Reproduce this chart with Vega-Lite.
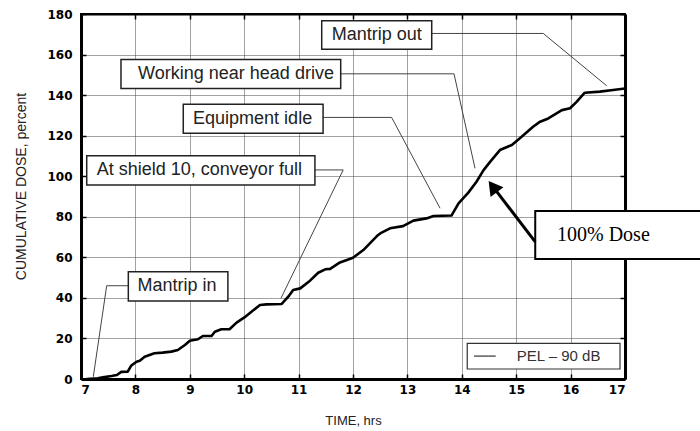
{
  "$schema": "https://vega.github.io/schema/vega-lite/v6.json",
  "width": 544,
  "height": 365,
  "autosize": {"type": "none"},
  "padding": {"left": 81, "top": 14, "right": 75, "bottom": 52},
  "background": "white",
  "config": {
    "view": {"stroke": "black", "strokeWidth": 2},
    "axis": {
      "labelFont": "DejaVu Sans",
      "labelFontWeight": "bold",
      "labelFontSize": 12,
      "labelColor": "black",
      "domainColor": "black",
      "domainWidth": 3,
      "tickColor": "black",
      "tickWidth": 1.5,
      "gridColor": "#444",
      "gridDash": [1, 1],
      "gridWidth": 1,
      "gridOpacity": 1,
      "titleFont": "Liberation Sans",
      "titleFontWeight": "normal",
      "titleFontSize": 13,
      "titleColor": "#222"
    }
  },
  "datasets": {
    "curve": [
      {"t": 7.10, "dose": 0}, {"t": 7.31, "dose": 0.3}, {"t": 7.40, "dose": 0.8}, {"t": 7.56, "dose": 1.5},
      {"t": 7.66, "dose": 2.0}, {"t": 7.74, "dose": 3.5}, {"t": 7.86, "dose": 3.6}, {"t": 7.92, "dose": 6.5},
      {"t": 8.02, "dose": 8.5}, {"t": 8.08, "dose": 9.0}, {"t": 8.17, "dose": 11.0}, {"t": 8.35, "dose": 12.7},
      {"t": 8.50, "dose": 13.0}, {"t": 8.66, "dose": 13.5}, {"t": 8.78, "dose": 14.3}, {"t": 8.91, "dose": 16.8},
      {"t": 9.00, "dose": 18.9}, {"t": 9.15, "dose": 19.6}, {"t": 9.24, "dose": 21.2}, {"t": 9.40, "dose": 21.2},
      {"t": 9.46, "dose": 23.3}, {"t": 9.58, "dose": 24.5}, {"t": 9.73, "dose": 24.5}, {"t": 9.86, "dose": 27.8},
      {"t": 10.01, "dose": 30.5}, {"t": 10.15, "dose": 33.5}, {"t": 10.29, "dose": 36.5}, {"t": 10.41, "dose": 36.8},
      {"t": 10.69, "dose": 37.0}, {"t": 10.81, "dose": 40.6}, {"t": 10.90, "dose": 43.9}, {"t": 11.03, "dose": 44.7},
      {"t": 11.21, "dose": 48.5}, {"t": 11.36, "dose": 52.4}, {"t": 11.49, "dose": 54.1}, {"t": 11.58, "dose": 54.3},
      {"t": 11.76, "dose": 57.5}, {"t": 11.90, "dose": 58.8}, {"t": 12.00, "dose": 59.8}, {"t": 12.19, "dose": 63.6},
      {"t": 12.31, "dose": 66.9}, {"t": 12.44, "dose": 70.5}, {"t": 12.50, "dose": 71.8}, {"t": 12.68, "dose": 74.3},
      {"t": 12.92, "dose": 75.4}, {"t": 13.11, "dose": 78.1}, {"t": 13.35, "dose": 79.2}, {"t": 13.48, "dose": 80.4},
      {"t": 13.81, "dose": 80.6}, {"t": 13.94, "dose": 86.6}, {"t": 14.12, "dose": 91.9}, {"t": 14.27, "dose": 97.3},
      {"t": 14.40, "dose": 103.0}, {"t": 14.52, "dose": 107.1}, {"t": 14.70, "dose": 112.9}, {"t": 14.92, "dose": 115.4},
      {"t": 15.10, "dose": 119.5}, {"t": 15.31, "dose": 124.4}, {"t": 15.44, "dose": 126.9}, {"t": 15.59, "dose": 128.5},
      {"t": 15.84, "dose": 132.6}, {"t": 15.99, "dose": 133.5}, {"t": 16.11, "dose": 136.7}, {"t": 16.26, "dose": 141.2},
      {"t": 16.54, "dose": 141.7}, {"t": 16.78, "dose": 142.5}, {"t": 17.00, "dose": 143.3}
    ],
    "leaders": [
      {"id": "in", "seq": 1, "t": 7.87, "dose": 46.0}, {"id": "in", "seq": 2, "t": 7.472, "dose": 46.0}, {"id": "in", "seq": 3, "t": 7.226, "dose": 1.1},
      {"id": "shield", "seq": 1, "t": 11.30, "dose": 103.1}, {"id": "shield", "seq": 2, "t": 11.82, "dose": 103.1}, {"id": "shield", "seq": 3, "t": 10.676, "dose": 39.8},
      {"id": "idle", "seq": 1, "t": 11.45, "dose": 129.0}, {"id": "idle", "seq": 2, "t": 12.71, "dose": 129.0}, {"id": "idle", "seq": 3, "t": 13.60, "dose": 84.2},
      {"id": "head", "seq": 1, "t": 11.774, "dose": 150.5}, {"id": "head", "seq": 2, "t": 13.857, "dose": 150.5}, {"id": "head", "seq": 3, "t": 14.243, "dose": 103.9},
      {"id": "out", "seq": 1, "t": 13.447, "dose": 170.4}, {"id": "out", "seq": 2, "t": 15.498, "dose": 170.4}, {"id": "out", "seq": 3, "t": 16.664, "dose": 144.6}
    ],
    "boxes": [
      {"label": "Mantrip in", "t0": 7.87, "t1": 9.70, "d0": 38.5, "d1": 52.9, "tx": 8.04, "ty": 45.7},
      {"label": "At shield 10, conveyor full", "t0": 7.105, "t1": 11.30, "d0": 95.7, "d1": 110.1, "tx": 7.29, "ty": 102.9},
      {"label": "Equipment idle", "t0": 8.88, "t1": 11.45, "d0": 121.2, "d1": 135.5, "tx": 9.06, "ty": 128.3},
      {"label": "Working near head drive", "t0": 7.735, "t1": 11.774, "d0": 143.3, "d1": 157.6, "tx": 8.05, "ty": 150.4},
      {"label": "Mantrip out", "t0": 11.425, "t1": 13.447, "d0": 162.6, "d1": 176.7, "tx": 11.61, "ty": 169.6}
    ],
    "dosebox": [
      {"label": "100% Dose", "t0": 15.35, "t1": 18.4, "d0": 59.2, "d1": 82.8, "tx": 15.75, "ty": 71.0}
    ],
    "arrow": [
      {"seq": 1, "t": 15.35, "dose": 67.6},
      {"seq": 2, "t": 14.58, "dose": 94.6}
    ],
    "arrowhead": [
      {"t": 14.57, "dose": 94.9}
    ],
    "legendbox": [
      {"t0": 14.10, "t1": 16.908, "d0": 4.93, "d1": 17.6, "l0": 14.224, "l1": 14.623, "ly": 11.3, "tx": 15.01, "label": "PEL – 90 dB"}
    ]
  },
  "layer": [
    {
      "data": {"name": "curve"},
      "mark": {"type": "line", "color": "black", "strokeWidth": 2.6, "strokeJoin": "round"},
      "encoding": {
        "x": {
          "field": "t", "type": "quantitative",
          "scale": {"domain": [7, 17], "nice": false, "zero": false},
          "axis": {"orient": "bottom", "values": [7, 8, 9, 10, 11, 12, 13, 14, 15, 16, 17], "title": "TIME, hrs",
                   "grid": true, "tickSize": -5, "labelPadding": 10, "titlePadding": 19}
        },
        "y": {
          "field": "dose", "type": "quantitative",
          "scale": {"domain": [0, 180], "nice": false, "zero": true},
          "axis": {"orient": "left", "values": [0, 20, 40, 60, 80, 100, 120, 140, 160, 180], "title": "CUMULATIVE DOSE, percent",
                   "grid": true, "tickSize": -5, "labelPadding": 14, "titlePadding": 18, "titleFontSize": 14, "titleY": 172}
        }
      }
    },
    {
      "data": {"name": "leaders"},
      "mark": {"type": "line", "color": "#444", "strokeWidth": 1},
      "encoding": {
        "x": {"field": "t", "type": "quantitative",
              "axis": {"orient": "top", "labels": false, "grid": false, "title": null, "tickSize": -5, "domainWidth": 2,
                       "values": [7, 8, 9, 10, 11, 12, 13, 14, 15, 16, 17]}},
        "y": {"field": "dose", "type": "quantitative",
              "axis": {"orient": "right", "labels": false, "grid": false, "title": null, "tickSize": -5, "domainWidth": 3,
                       "values": [0, 20, 40, 60, 80, 100, 120, 140, 160, 180]}},
        "detail": {"field": "id"},
        "order": {"field": "seq", "type": "quantitative"}
      }
    },
    {
      "data": {"name": "boxes"},
      "mark": {"type": "rect", "fill": "white", "stroke": "#222", "strokeWidth": 1.5},
      "encoding": {
        "x": {"field": "t0", "type": "quantitative", "axis": null},
        "x2": {"field": "t1"},
        "y": {"field": "d0", "type": "quantitative", "axis": null},
        "y2": {"field": "d1"}
      }
    },
    {
      "data": {"name": "boxes"},
      "mark": {"type": "text", "align": "left", "baseline": "middle", "font": "Liberation Sans", "fontSize": 18, "color": "#222"},
      "encoding": {
        "x": {"field": "tx", "type": "quantitative", "axis": null},
        "y": {"field": "ty", "type": "quantitative", "axis": null},
        "text": {"field": "label"}
      }
    },
    {
      "data": {"name": "dosebox"},
      "mark": {"type": "rect", "fill": "white", "stroke": "black", "strokeWidth": 2},
      "encoding": {
        "x": {"field": "t0", "type": "quantitative", "axis": null},
        "x2": {"field": "t1"},
        "y": {"field": "d0", "type": "quantitative", "axis": null},
        "y2": {"field": "d1"}
      }
    },
    {
      "data": {"name": "dosebox"},
      "mark": {"type": "text", "align": "left", "baseline": "middle", "font": "Liberation Serif", "fontSize": 20, "color": "black"},
      "encoding": {
        "x": {"field": "tx", "type": "quantitative", "axis": null},
        "y": {"field": "ty", "type": "quantitative", "axis": null},
        "text": {"field": "label"}
      }
    },
    {
      "data": {"name": "arrow"},
      "mark": {"type": "line", "color": "black", "strokeWidth": 3},
      "encoding": {
        "x": {"field": "t", "type": "quantitative", "axis": null},
        "y": {"field": "dose", "type": "quantitative", "axis": null},
        "order": {"field": "seq", "type": "quantitative"}
      }
    },
    {
      "data": {"name": "arrowhead"},
      "mark": {"type": "point", "shape": "triangle-up", "filled": true, "color": "black", "opacity": 1, "size": 260, "angle": 323},
      "encoding": {
        "x": {"field": "t", "type": "quantitative", "axis": null},
        "y": {"field": "dose", "type": "quantitative", "axis": null}
      }
    },
    {
      "data": {"name": "legendbox"},
      "mark": {"type": "rect", "fill": "white", "stroke": "#333", "strokeWidth": 1.2},
      "encoding": {
        "x": {"field": "t0", "type": "quantitative", "axis": null},
        "x2": {"field": "t1"},
        "y": {"field": "d0", "type": "quantitative", "axis": null},
        "y2": {"field": "d1"}
      }
    },
    {
      "data": {"name": "legendbox"},
      "mark": {"type": "rule", "color": "#333", "strokeWidth": 1.2},
      "encoding": {
        "x": {"field": "l0", "type": "quantitative", "axis": null},
        "x2": {"field": "l1"},
        "y": {"field": "ly", "type": "quantitative", "axis": null}
      }
    },
    {
      "data": {"name": "legendbox"},
      "mark": {"type": "text", "align": "left", "baseline": "middle", "font": "Liberation Sans", "fontSize": 15, "color": "#333"},
      "encoding": {
        "x": {"field": "tx", "type": "quantitative", "axis": null},
        "y": {"field": "ly", "type": "quantitative", "axis": null},
        "text": {"field": "label"}
      }
    }
  ],
  "resolve": {"axis": {"x": "independent", "y": "independent"}}
}
